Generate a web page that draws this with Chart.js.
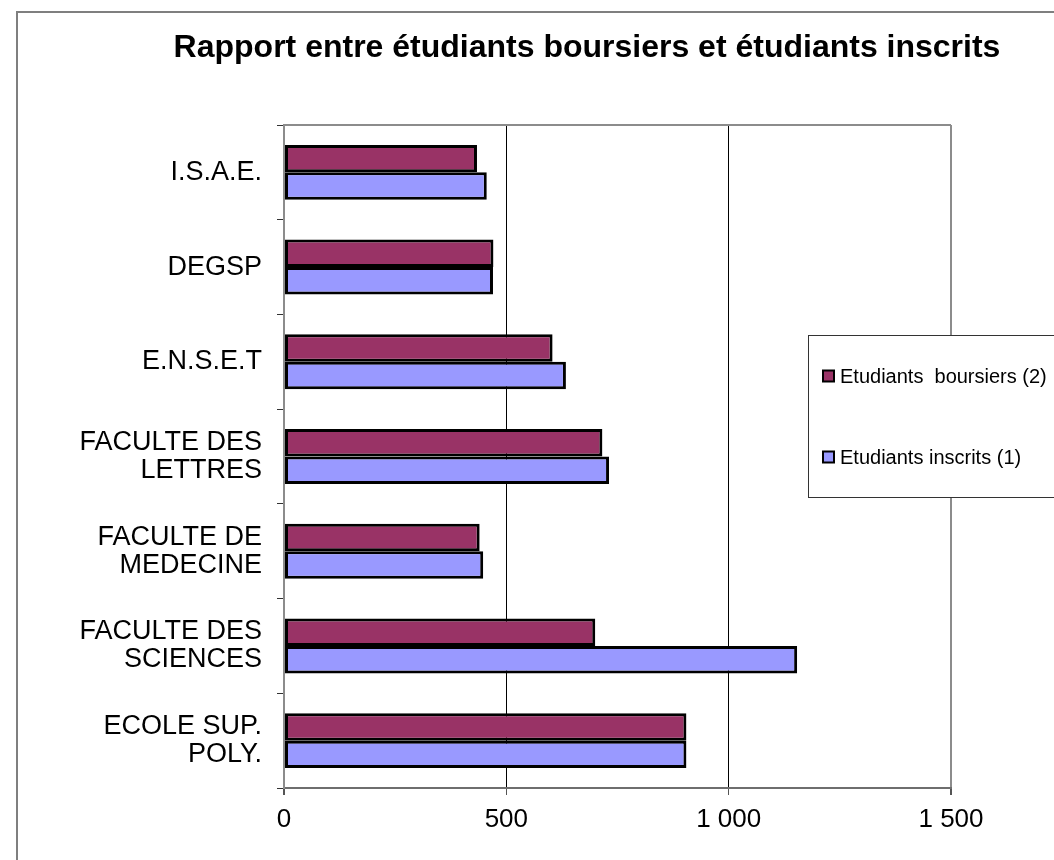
<!DOCTYPE html>
<html>
<head>
<meta charset="utf-8">
<script src="https://cdn.jsdelivr.net/npm/chart.js@4"></script>
<style>
  html, body { margin: 0; padding: 0; background: #fff; }
  #wrap { width: 1054px; height: 860px; position: relative; }
</style>
</head>
<body>
<div id="wrap"><canvas id="c" width="1054" height="860"></canvas></div>
<script>
const chartTitle = "Rapport entre étudiants boursiers et étudiants inscrits";
const categories = [
  "I.S.A.E.",
  "DEGSP",
  "E.N.S.E.T",
  ["FACULTE DES", "LETTRES"],
  ["FACULTE DE", "MEDECINE"],
  ["FACULTE DES", "SCIENCES"],
  ["ECOLE SUP.", "POLY."]
];
const seriesNames = ["Etudiants  boursiers (2)", "Etudiants inscrits (1)"];
const boursiers = [434, 471, 604, 716, 440, 700, 905];
const inscrits  = [456, 470, 634, 731, 448, 1154, 905];
const xTicks = [0, 500, 1000, 1500];
const seriesColors = ["#993366", "#9999FF"];

function fmt(v) {
  return String(v).replace(/\B(?=(\d{3})+(?!\d))/g, " ");
}

const FONT = "'Liberation Sans', Arial, sans-serif";

const decor = {
  id: 'decor',
  beforeDraw(chart) {
    const ctx = chart.ctx;
    ctx.save();
    ctx.fillStyle = '#fff';
    ctx.fillRect(0, 0, chart.width, chart.height);
    ctx.strokeStyle = '#7f7f7f';
    ctx.lineWidth = 2;
    ctx.strokeRect(17, 12, 1200, 1000);
    ctx.fillStyle = '#000';
    ctx.font = "bold 32px " + FONT;
    ctx.textAlign = 'center';
    ctx.textBaseline = 'middle';
    ctx.fillText(chartTitle, 587, 48);
    ctx.restore();
  },
  afterDatasetsDraw(chart) {
    const ctx = chart.ctx;
    const a = chart.chartArea;
    ctx.save();
    ctx.strokeStyle = '#8c8c8c';
    ctx.lineWidth = 2;
    ctx.beginPath();
    ctx.moveTo(a.left, a.top);
    ctx.lineTo(a.right, a.top);
    ctx.stroke();
    // legend box
    const lx = 808, ly = 335, lw = 260, lh = 162;
    ctx.fillStyle = '#fff';
    ctx.fillRect(lx, ly, lw, lh);
    ctx.strokeStyle = '#333';
    ctx.lineWidth = 1;
    ctx.strokeRect(lx + 0.5, ly + 0.5, lw, lh);
    const ys = [376, 457];
    ctx.font = "20px " + FONT;
    ctx.textAlign = 'left';
    ctx.textBaseline = 'middle';
    chart.data.datasets.forEach((ds, i) => {
      ctx.fillStyle = ds.backgroundColor;
      ctx.fillRect(823, ys[i] - 5.5, 11, 11);
      ctx.strokeStyle = '#000';
      ctx.lineWidth = 2;
      ctx.strokeRect(823, ys[i] - 5.5, 11, 11);
      ctx.fillStyle = '#000';
      ctx.fillText(ds.label, 840, ys[i] + 1);
    });
    ctx.restore();
  }
};

new Chart(document.getElementById('c'), {
  type: 'bar',
  data: {
    labels: categories,
    datasets: [
      { label: seriesNames[0], data: boursiers, backgroundColor: seriesColors[0], borderColor: '#000', borderWidth: 3, borderSkipped: false },
      { label: seriesNames[1], data: inscrits,  backgroundColor: seriesColors[1], borderColor: '#000', borderWidth: 3, borderSkipped: false }
    ]
  },
  options: {
    indexAxis: 'y',
    responsive: false,
    animation: false,
    devicePixelRatio: 1,
    layout: { padding: { left: 0, right: 103, top: 125, bottom: 12 } },
    datasets: { bar: { categoryPercentage: 0.58, barPercentage: 1.0 } },
    plugins: {
      legend: { display: false },
      title: { display: false },
      tooltip: { enabled: false }
    },
    scales: {
      x: {
        min: 0, max: 1500,
        afterBuildTicks(scale) { scale.ticks = xTicks.map(v => ({ value: v })); },
        afterFit(scale) { scale.height = 60; },
        border: { color: '#6e6e6e', width: 2 },
        grid: {
          color: ctx => (ctx.tick && (ctx.tick.value === 0 || ctx.tick.value === 1500)) ? '#8c8c8c' : '#000',
          lineWidth: ctx => (ctx.tick && (ctx.tick.value === 0 || ctx.tick.value === 1500)) ? 2 : 1,
          tickColor: '#555',
          tickLength: 7,
          drawTicks: true
        },
        ticks: {
          color: '#000',
          font: { family: FONT, size: 26 },
          padding: 9,
          callback: v => fmt(v)
        }
      },
      y: {
        afterFit(scale) { scale.width = 284; },
        border: { color: '#8c8c8c', width: 2 },
        grid: { drawOnChartArea: false, drawTicks: true, tickLength: 7, tickColor: '#333', offset: true },
        ticks: {
          color: '#000',
          font: { family: FONT, size: 27, lineHeight: 1.04 },
          padding: 15
        }
      }
    }
  },
  plugins: [decor]
});
</script>
</body>
</html>
